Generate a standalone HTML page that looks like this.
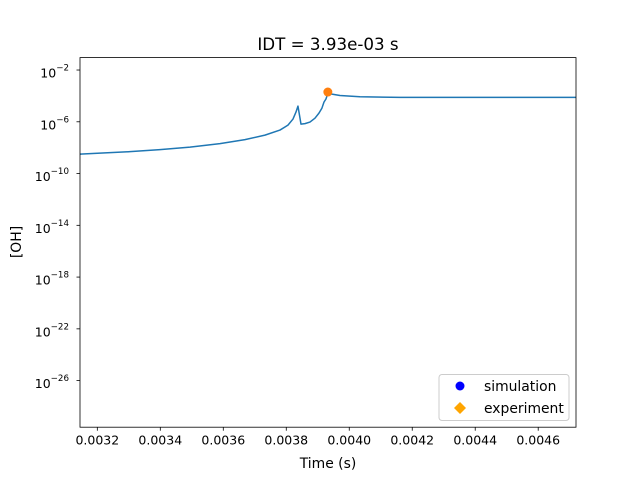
<!DOCTYPE html>
<html><head><meta charset="utf-8"><style>
body{margin:0;background:#fff}
svg text{font-family:"DejaVu Sans","Liberation Sans",sans-serif;fill:#000}
</style></head><body>
<svg width="640" height="480" viewBox="0 0 640 480" xmlns="http://www.w3.org/2000/svg">
<rect x="0" y="0" width="640" height="480" fill="#fff"/>
<text x="328" y="50" font-size="16.7" text-anchor="middle">IDT = 3.93e-03 s</text>
<g id="plot"></g>
<text x="328" y="468" font-size="13.9" text-anchor="middle">Time (s)</text>
<text transform="translate(21,242) rotate(-90)" font-size="13.9" text-anchor="middle">[OH]</text>
<g>
<rect x="439" y="374.5" width="130" height="46" rx="3" fill="#fff" fill-opacity="0.8" stroke="#ccc"/>
<circle cx="460" cy="386" r="4.5" fill="#0000ff"/>
<text x="484" y="391" font-size="13.9">simulation</text>
<polygon points="460,402 466,408 460,414 454,408" fill="#ffa500"/>
<text x="484" y="413" font-size="13.9">experiment</text>
</g>
</svg>
<script>
const times=[0.003145,0.0032086,0.0033038,0.003399,0.0034943,0.0035895,0.0036689,0.0037324,0.00378,0.0038054,0.0038213,0.0038308,0.0038371,0.0038419,0.0038467,0.0038594,0.0038752,0.0038911,0.0039038,0.0039133,0.0039197,0.003926,0.0039324,0.0039451,0.0039705,0.004034,0.004161,0.00472];
const logOH=[-8.50,-8.42,-8.31,-8.15,-7.96,-7.69,-7.38,-7.03,-6.64,-6.26,-5.79,-5.25,-4.79,-5.48,-6.18,-6.14,-6.02,-5.72,-5.33,-4.94,-4.48,-4.24,-3.78,-3.86,-3.97,-4.07,-4.11,-4.11];
const idtTime=[0.003932];
const idtLog=[-3.70];
const xTicks=[0.0032,0.0034,0.0036,0.0038,0.0040,0.0042,0.0044,0.0046];
const xTickLabels=["0.0032","0.0034","0.0036","0.0038","0.0040","0.0042","0.0044","0.0046"];
const yTicks=[-2,-6,-10,-14,-18,-22,-26];
const yTickLabels=["−2","−6","−10","−14","−18","−22","−26"];

const L=80,R=576,T=57.6,B=427.2;
const xmin=0.003145,xmax=0.00472;
const ymaxL=-1.04,yminL=-29.6;
const X=t=>L+(t-xmin)/(xmax-xmin)*(R-L);
const Y=v=>T+(ymaxL-v)/(ymaxL-yminL)*(B-T);
const NS="http://www.w3.org/2000/svg";
const g=document.getElementById('plot');
function mk(tag,attrs){const e=document.createElementNS(NS,tag);for(const k in attrs)e.setAttribute(k,attrs[k]);return e;}

const defs=mk('defs',{});const cp=mk('clipPath',{id:'clip'});cp.appendChild(mk('rect',{x:L,y:T,width:R-L,height:B-T}));defs.appendChild(cp);g.appendChild(defs);

let d='';times.forEach((t,i)=>{d+=(i?'L':'M')+X(t).toFixed(2)+','+Y(logOH[i]).toFixed(2);});
const line=mk('path',{d:d,fill:'none',stroke:'#1f77b4','stroke-width':1.5,'stroke-linejoin':'round','clip-path':'url(#clip)'});


g.appendChild(line);

idtTime.forEach((t,i)=>{
const c=mk('circle',{cx:X(t),cy:Y(idtLog[i]),r:4.5,fill:'#ff7f0e'});


g.appendChild(c);});

const frame=mk('rect',{x:L,y:T,width:R-L,height:B-T,fill:'none',stroke:'#000','stroke-width':0.8});


g.appendChild(frame);

xTicks.forEach((t,i)=>{const x=X(t);
const tk=mk('line',{x1:x,x2:x,y1:B,y2:B+3.5,stroke:'#000','stroke-width':0.8});


g.appendChild(tk);
const tx=mk('text',{x:x,y:B+17.5,'font-size':12.5,'text-anchor':'middle'});tx.textContent=xTickLabels[i];


g.appendChild(tx);});

yTicks.forEach((v,i)=>{const y=Y(v);
const tk=mk('line',{x1:L-3.5,x2:L,y1:y,y2:y,stroke:'#000','stroke-width':0.8});


g.appendChild(tk);
const tx=mk('text',{x:L-11,y:y+7.5,'font-size':12.5,'text-anchor':'end'});
const a=mk('tspan',{});a.textContent='10';
const b=mk('tspan',{dy:-7,'font-size':8.7});b.textContent=yTickLabels[i];
tx.appendChild(a);tx.appendChild(b);


g.appendChild(tx);});
</script>
</body></html>
